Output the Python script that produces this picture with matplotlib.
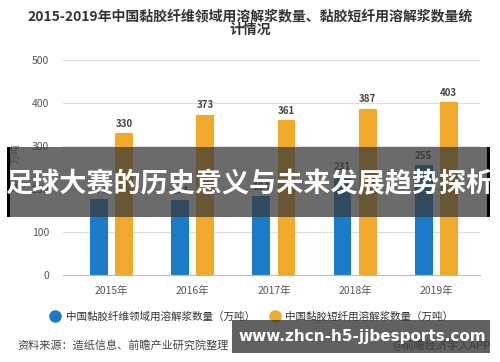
import numpy as np
import matplotlib
matplotlib.use('Agg')
import matplotlib.pyplot as plt
from matplotlib.patches import Rectangle
from matplotlib.lines import Line2D

plt.rcParams['font.family'] = ['Noto Sans CJK SC', 'DejaVu Sans']

years = ['2015年', '2016年', '2017年', '2018年', '2019年']
fiber = [177, 174, 184, 231, 255]
staple = [330, 373, 361, 387, 403]
fiber_name = '中国黏胶纤维领域用溶解浆数量（万吨）'
staple_name = '中国黏胶短纤用溶解浆数量（万吨）'

W, H = 500, 362
fig = plt.figure(figsize=(W / 100, H / 100), dpi=100)
fig.patch.set_facecolor('white')


def fx(px):
    return px / W


def fy(py):
    return 1 - py / H


ax = fig.add_axes([fx(63), fy(275), fx(480) - fx(63), fy(60) - fy(275)])

x = np.arange(len(years))
w = 0.22
blue = '#1b7bc8'
orange = '#f0a92a'
b1 = ax.bar(x - 0.155, fiber, w, color=blue, zorder=2)
b2 = ax.bar(x + 0.155, staple, w, color=orange, zorder=2)

for bars in (b1, b2):
    for r in bars:
        ax.annotate(f'{int(r.get_height())}', (r.get_x() + r.get_width() / 2, r.get_height()),
                    xytext=(0, 3), textcoords='offset points', ha='center', va='bottom',
                    fontsize=7, fontweight='bold', color='#444444')

ax.set_xlim(-0.6, 4.54)
ax.set_ylim(0, 500)
ax.set_yticks(range(0, 501, 100))
ax.set_xticks(x)
ax.set_xticklabels(years)
ax.grid(axis='y', color='#dddddd', linewidth=0.8, zorder=0)
ax.set_axisbelow(True)
for s in ['top', 'right', 'left']:
    ax.spines[s].set_visible(False)
ax.spines['bottom'].set_color('#bbbbbb')
ax.tick_params(axis='both', length=0, labelsize=7.5, colors='#555555', pad=8)
ax.tick_params(axis='y', pad=10)
ax.set_ylabel('单位：万吨', fontsize=7, color='#666666', labelpad=8)

handles = [Line2D([], [], marker='o', linestyle='none', markersize=8, color=blue),
           Line2D([], [], marker='o', linestyle='none', markersize=8, color=orange)]
leg = fig.legend(handles, [fiber_name, staple_name], loc='center left',
                 bbox_to_anchor=(fx(51), fy(317)), ncol=2, frameon=False, fontsize=7.6,
                 handlelength=0.8, columnspacing=1.5, handletextpad=0.6,
                 borderaxespad=0, borderpad=0)
for t in leg.get_texts():
    t.set_color('#333333')

fig.text(fx(250), fy(16), '2015-2019年中国黏胶纤维领域用溶解浆数量、黏胶短纤用溶解浆数量统',
         ha='center', va='center', fontsize=10, fontweight='bold', color='#333333')
fig.text(fx(250), fy(30), '计情况', ha='center', va='center', fontsize=10,
         fontweight='bold', color='#333333')

fig.text(fx(17), fy(345), '资料来源：造纸信息、前瞻产业研究院整理', ha='left', va='center',
         fontsize=8, color='#444444')
fig.text(fx(490), fy(345), '@前瞻经济学人APP', ha='right', va='center',
         fontsize=8, color='#444444')

# banner overlay
fig.add_artist(Rectangle((fx(8), fy(217)), fx(490) - fx(8), fy(147) - fy(217),
                         transform=fig.transFigure, facecolor='#3a3a3a', alpha=0.75,
                         edgecolor='none', zorder=10))
fig.add_artist(Rectangle((fx(7), fy(217)), fx(3), fy(147) - fy(217),
                         transform=fig.transFigure, facecolor='black', edgecolor='none', zorder=11))
fig.add_artist(Rectangle((fx(487), fy(217)), fx(3), fy(147) - fy(217),
                         transform=fig.transFigure, facecolor='black', edgecolor='none', zorder=11))
fig.text(fx(249), fy(184), '足球大赛的历史意义与未来发展趋势探析', ha='center', va='center',
         fontsize=19.5, fontweight='bold', color='white', zorder=12)

# watermark overlay
fig.add_artist(Rectangle((fx(232), fy(353)), fx(490) - fx(232), fy(320) - fy(353),
                         transform=fig.transFigure, facecolor='#3a3a3a', alpha=0.8,
                         edgecolor='none', zorder=10))
fig.text(fx(362), fy(336), 'www.zhcn-h5-jjbesports.com', ha='center', va='center',
         fontsize=11, fontweight='bold', color='white', zorder=12, family='DejaVu Sans')

fig.savefig('out.png', dpi=100)
